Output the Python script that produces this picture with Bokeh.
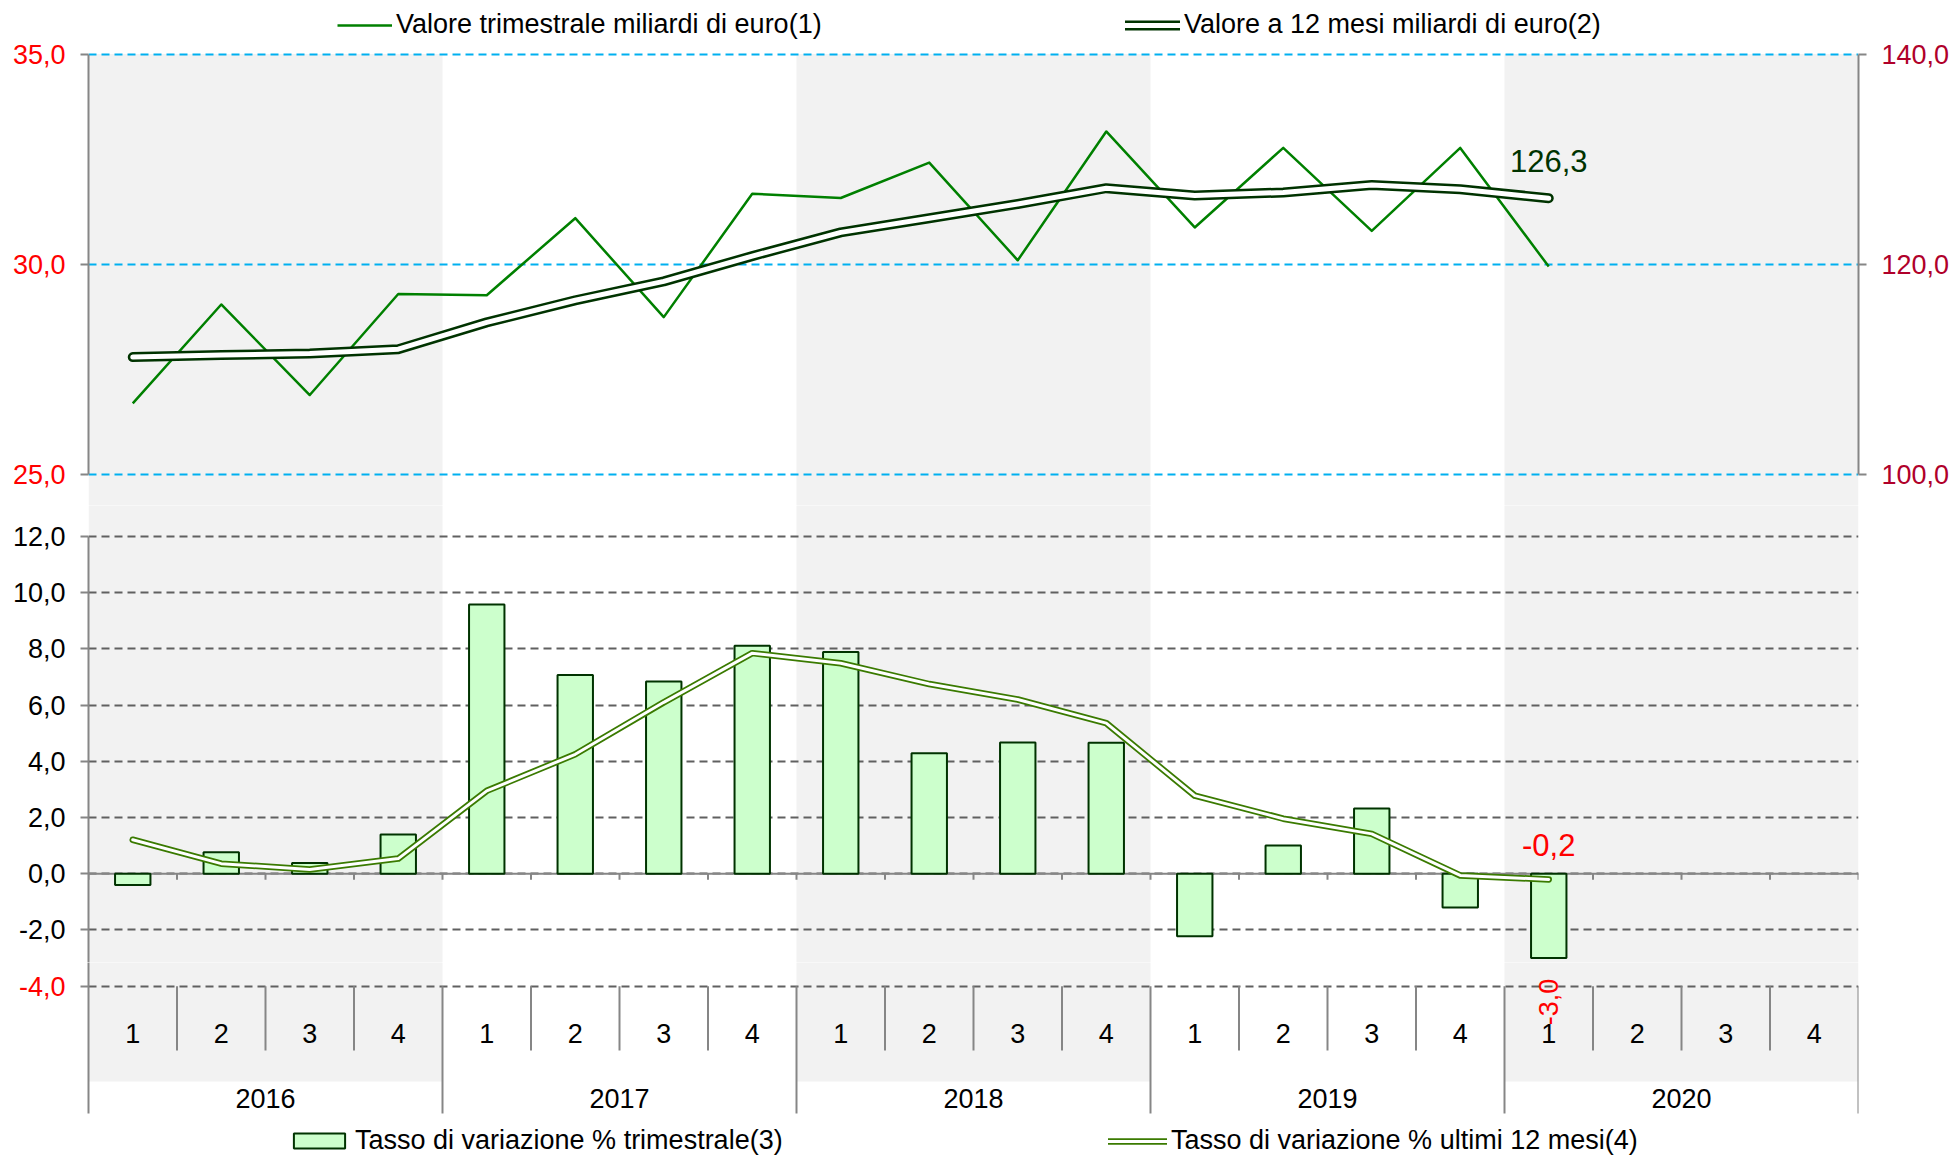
from bokeh.plotting import figure
from bokeh.layouts import column
from bokeh.models import (Range1d, LinearAxis, FixedTicker, CustomJSTickFormatter,
                          Legend, LegendItem, Label, Span)
from bokeh.core.properties import value
from bokeh.embed import file_html
from bokeh.resources import INLINE

# ---------------- data ----------------
years = ["2016", "2017", "2018", "2019", "2020"]
quarters = ["1", "2", "3", "4"]

# quarterly value, billions of euro (left axis of upper panel)
valore_trimestrale = [26.70, 29.05, 26.90, 29.30, 29.27, 31.10, 28.75, 31.68,
                      31.58, 32.42, 30.10, 33.16, 30.88, 32.77, 30.80, 32.77, 29.95]
# rolling 12-month value, billions of euro (right axis of upper panel)
valore_12_mesi = [111.2, 111.4, 111.55, 111.95, 114.5, 116.6, 118.4, 120.8,
                  123.05, 124.4, 125.75, 127.25, 126.55, 126.85, 127.55, 127.15, 126.3]
# % change, quarter on same quarter of previous year (bars)
tasso_trimestrale = [-0.4, 0.77, 0.38, 1.40, 9.58, 7.07, 6.84, 8.11,
                     7.89, 4.29, 4.67, 4.66, -2.22, 1.01, 2.32, -1.20, -3.0]
# % change, last 12 months (line)
tasso_12_mesi = [1.21, 0.36, 0.15, 0.54, 2.95, 4.25, 6.10, 7.85,
                 7.49, 6.75, 6.20, 5.36, 2.78, 1.96, 1.42, -0.06, -0.2]

ticks_top_left = [25, 30, 35]
ticks_top_right = [100, 120, 140]
ticks_mid = [-2, 0, 2, 4, 6, 8, 10, 12]
ticks_low = [-4]

# ---------------- style ----------------
FONT = "Liberation Sans"
FS = "27px"
AXIS_GRAY = "#868686"
BAND = "#F2F2F2"
W = 1953
BL, BR = 88, 95          # side borders -> plot area from x=88 to x=1858

n_q = len(years) * len(quarters)
xq = [i + 0.5 for i in range(len(valore_trimestrale))]
band_left = [years.index(y) * len(quarters) for y in years[::2]]
band_right = [b + len(quarters) for b in band_left]


def comma_fmt():
    return CustomJSTickFormatter(code="return tick.toFixed(1).replace('.', ',');")


def style_axis(ax, color):
    ax.axis_line_color = AXIS_GRAY
    ax.axis_line_width = 2
    ax.major_tick_line_color = AXIS_GRAY
    ax.major_tick_line_width = 2
    ax.major_tick_out = 8
    ax.major_tick_in = 0
    ax.minor_tick_line_color = None
    ax.major_label_text_color = color
    ax.major_label_text_font = FONT
    ax.major_label_text_font_size = FS
    ax.major_label_standoff = 15


def new_fig(height, y_range, x_range):
    return figure(width=W, height=height, x_range=x_range, y_range=y_range,
                  output_backend="svg", toolbar_location=None, x_axis_location=None,
                  min_border_left=BL, min_border_right=BR, min_border_top=0,
                  min_border_bottom=0, outline_line_color=None,
                  background_fill_color="white", border_fill_color="white")


def make_legend(items, loc, gw, gh):
    return Legend(items=items, location=loc, orientation="horizontal",
                  label_text_font=FONT, label_text_font_size=FS, label_text_color="black",
                  glyph_width=gw, glyph_height=gh, label_standoff=4, padding=0, margin=0,
                  spacing=0, border_line_color=None, background_fill_alpha=0,
                  inactive_fill_alpha=0)


def set_left_axis(p, ticks, bounds, color, grid_color, grid_dash):
    tk = FixedTicker(ticks=ticks)
    p.yaxis.ticker = tk
    p.yaxis.bounds = bounds
    p.yaxis.formatter = comma_fmt()
    style_axis(p.yaxis[0], color)
    p.ygrid.ticker = tk
    p.ygrid.grid_line_color = grid_color
    p.ygrid.grid_line_dash = grid_dash
    p.ygrid.grid_line_width = 2
    p.xgrid.grid_line_color = None


xr = Range1d(0, n_q)

# ================= upper panel (values) =================
top = new_fig(505, Range1d(24.2755, 36.271), xr)
top.extra_y_ranges = {"right": Range1d(97.102, 145.084)}

top.quad(left=band_left, right=band_right, bottom=top.y_range.start - 1, top=max(ticks_top_left),
         fill_color=BAND, line_color=None, level="image")
set_left_axis(top, ticks_top_left, (min(ticks_top_left), max(ticks_top_left)),
              "#FF0000", "#00B0F0", "8 5")

rax = LinearAxis(y_range_name="right", ticker=FixedTicker(ticks=ticks_top_right),
                 bounds=(min(ticks_top_right), max(ticks_top_right)), formatter=comma_fmt())
style_axis(rax, "#B0002A")
top.add_layout(rax, "right")

r_trim = top.line(xq, valore_trimestrale, line_color="#008000", line_width=2.5,
                  line_join="round")
r_12o = top.line(xq, valore_12_mesi, y_range_name="right", line_color="#003300",
                 line_width=10, line_join="round", line_cap="round")
r_12i = top.line(xq, valore_12_mesi, y_range_name="right", line_color="white",
                 line_width=5, line_join="round", line_cap="round")

top.add_layout(Label(x=xq[-1], y=valore_12_mesi[-1], y_range_name="right", y_offset=37,
                     text=f"{valore_12_mesi[-1]:.1f}".replace(".", ","),
                     text_align="center", text_baseline="middle", text_color="#003300",
                     text_font=FONT, text_font_size="31px"))

top.add_layout(make_legend([LegendItem(label="Valore trimestrale miliardi di euro(1)",
                                       renderers=[r_trim])], (249, 465), 55, 20))
top.add_layout(make_legend([LegendItem(label="Valore a 12 mesi miliardi di euro(2)",
                                       renderers=[r_12o, r_12i])], (1037, 465), 55, 20))

# ================= middle & lower panels (rates) =================
bar_style = dict(fill_color="#CCFFCC", line_color="#003300", line_width=2)
line_o = dict(line_color="#3A7A00", line_width=6.5, line_join="round", line_cap="round")
line_i = dict(line_color="white", line_width=3, line_join="round", line_cap="round")


def draw_rates(p, visible=True):
    rb = p.vbar(x=xq, top=tasso_trimestrale, bottom=0, width=0.4, visible=visible, **bar_style)
    ro = p.line(xq, tasso_12_mesi, visible=visible, **line_o)
    ri = p.line(xq, tasso_12_mesi, visible=visible, **line_i)
    return rb, ro, ri


mid = new_fig(457, Range1d(-3.157, 13.103), xr)
mid.quad(left=band_left, right=band_right, bottom=mid.y_range.start - 1,
         top=mid.y_range.end + 1, fill_color=BAND, line_color=None, level="image")
set_left_axis(mid, ticks_mid, (mid.y_range.start, max(ticks_mid)),
              "black", "#606060", "8 5")

mid.add_layout(Span(location=0, dimension="width", line_color=AXIS_GRAY, line_width=2,
                    level="underlay"))
bounds_q = list(range(n_q + 1))
mid.segment(x0=bounds_q, y0=0, x1=bounds_q, y1=-0.213, line_color=AXIS_GRAY, line_width=2)
draw_rates(mid)

mid.add_layout(Label(x=xq[-1], y=tasso_12_mesi[-1], y_offset=34,
                     text=f"{tasso_12_mesi[-1]:.1f}".replace(".", ","),
                     text_align="center", text_baseline="middle", text_color="#FF0000",
                     text_font=FONT, text_font_size="31px"))

# lower panel: continuation of the rate axis (-4) with the category axis and legend
low = new_fig(193, Range1d(-10.024, -3.157), xr)
band_bottom = -7.391
sep_end = -8.529
low.quad(left=band_left, right=band_right, bottom=band_bottom, top=low.y_range.end + 1,
         fill_color=BAND, line_color=None, level="image")
set_left_axis(low, ticks_low, (sep_end, low.y_range.end), "#FF0000", "#606060", "8 5")
# same series (hidden here, drawn in the middle panel) to key the legend
k_bar, k_lo, k_li = draw_rates(low, visible=False)

ymin = min(ticks_low)
q_sep = [k for k in range(1, n_q) if k % len(quarters)]
y_sep = [k for k in range(len(quarters), n_q + 1, len(quarters))]
low.segment(x0=q_sep, y0=ymin, x1=q_sep, y1=-6.288, line_color=AXIS_GRAY, line_width=2)
low.segment(x0=y_sep, y0=ymin, x1=y_sep, y1=sep_end, line_color=AXIS_GRAY, line_width=2)
q_x = [i + 0.5 for i in range(n_q)]
q_lab = [quarters[i % len(quarters)] for i in range(n_q)]
low.text(x=q_x, y=-5.68, text=q_lab, text_align="center", text_baseline="middle",
         text_font=value(FONT), text_font_size=FS, text_color="black")
y_x = [j * len(quarters) + len(quarters) / 2 for j in range(len(years))]
low.text(x=y_x, y=-7.996, text=years, text_align="center", text_baseline="middle",
         text_font=value(FONT), text_font_size=FS, text_color="black")

low.add_layout(Label(x=xq[-1], y=tasso_trimestrale[-1], y_offset=-44, angle=1.5708,
                     text=f"{tasso_trimestrale[-1]:.1f}".replace(".", ","),
                     text_align="center", text_baseline="middle", text_color="#FF0000",
                     text_font=FONT, text_font_size="27px"))

low.add_layout(make_legend([LegendItem(label="Tasso di variazione % trimestrale(3)",
                                       renderers=[k_bar])], (199, -1), 64, 19))
low.add_layout(make_legend([LegendItem(label="Tasso di variazione % ultimi 12 mesi(4)",
                                       renderers=[k_lo, k_li])], (1020, -1), 59, 16))

layout = column(top, mid, low, spacing=0)
open("out.html", "w").write(file_html(layout, INLINE))
